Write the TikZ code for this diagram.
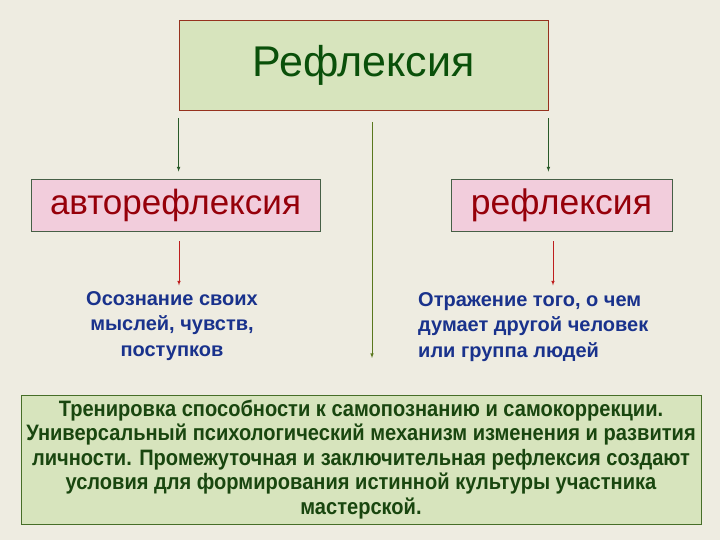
\documentclass[tikz,border=0pt]{standalone}
\usepackage{fontspec}
\setmainfont{Liberation Sans}
\newfontfamily\narrowbold[FakeStretch=0.9]{Liberation Sans}
\usetikzlibrary{calc,positioning,arrows}
\definecolor{bgbeige}{RGB}{238,236,225}
\definecolor{lightgreen}{RGB}{215,228,189}
\definecolor{lightpink}{RGB}{242,205,220}
\definecolor{titlegreen}{RGB}{10,80,10}
\definecolor{titleborder}{RGB}{150,50,30}
\definecolor{boxborder}{RGB}{70,95,70}
\definecolor{darkred}{RGB}{150,0,10}
\definecolor{textblue}{RGB}{25,50,140}
\definecolor{textgreen}{RGB}{25,70,15}
\definecolor{bottomborder}{RGB}{70,110,40}
\definecolor{arrgreen}{RGB}{40,90,40}
\definecolor{arrolive}{RGB}{90,120,30}
\definecolor{arrred}{RGB}{190,30,30}

\begin{document}
\begin{tikzpicture}[x=1pt,y=1pt,
  box/.style={draw, line width=0.8pt, inner sep=0pt},
  note/.style={font=\fontsize{20}{25.5}\selectfont\bfseries, text=textblue, inner sep=0pt},
  arr/.style={-latex, line width=0.6pt}]
\fill[bgbeige] (0,0) rectangle (720,540);
\useasboundingbox (0,0) rectangle (720,540);
\tikzstyle{every node}=[align=center]
\node[box, fill=lightgreen, draw=titleborder, minimum width=369, minimum height=90,
  text=titlegreen, font=\fontsize{43}{48}\selectfont] (refl) at (363.5,475) {Рефлексия};
\node[box, fill=lightpink, draw=boxborder, minimum width=289, minimum height=52,
  text=darkred, font=\fontsize{35}{40}\selectfont] (auto) at (175.5,335) {авторефлексия};
\node[box, fill=lightpink, draw=boxborder, minimum width=221, minimum height=52,
  text=darkred, font=\fontsize{35.5}{40}\selectfont] (other) at (561.5,335) {рефлексия};
\node[note] (self) at (172,214) {Осознание своих\\мыслей, чувств,\\поступков};
\node[note, align=left, anchor=west] (alien) at (418,213) {Отражение того, о чем\\думает другой человек\\или группа людей};
\node[box, fill=lightgreen, draw=bottomborder, minimum width=680, minimum height=129,
  text=textgreen, font=\narrowbold\fontsize{22.3}{24.5}\selectfont\bfseries] (train) at (361,80.5)
  {Тренировка способности к самопознанию и самокоррекции.\\
   Универсальный психологический механизм изменения и развития\\
   личности. Промежуточная и заключительная рефлексия создают\\
   условия для формирования истинной культуры участника\\
   мастерской.};
% free ends of the connectors
\coordinate (midtop) at (372,418);
\coordinate (midend) at (372,182);
\draw[arr, arrgreen] ([yshift=-8]refl.south west) -- ([yshift=7]auto.north -| refl.south west);
\draw[arr, arrgreen] ([yshift=-8]refl.south east) -- ([yshift=7]other.north -| refl.south east);
\draw[arr, arrolive] (midtop) -- (midend);
\draw[arr, arrred] ([xshift=3.5,yshift=-10]auto.south) -- ([xshift=3.5,yshift=-54]auto.south);
\draw[arr, arrred] ([xshift=-8.5,yshift=-10]other.south) -- ([xshift=-8.5,yshift=-54]other.south);
\end{tikzpicture}
\end{document}
